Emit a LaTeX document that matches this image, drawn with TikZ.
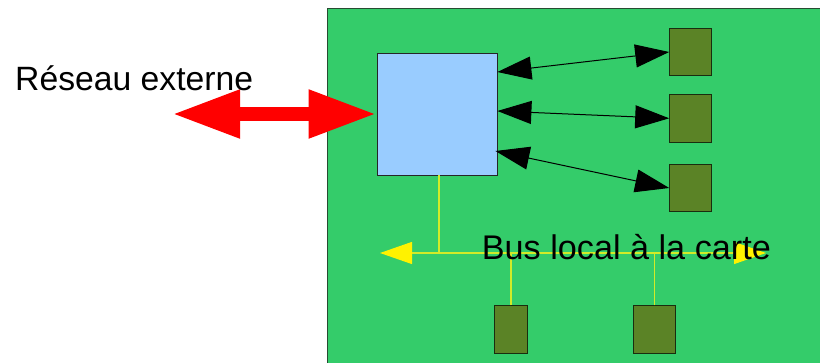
\documentclass[tikz,border=0pt]{standalone}
\usepackage{fontspec}
\setmainfont{Liberation Sans}
\usetikzlibrary{arrows.meta}

\definecolor{boardgreen}{RGB}{52,204,106}
\definecolor{boardedge}{RGB}{40,75,50}
\definecolor{cpublue}{RGB}{153,204,255}
\definecolor{portgreen}{RGB}{91,131,38}
\definecolor{portedge}{RGB}{25,45,15}
\definecolor{buslime}{RGB}{210,235,40}

\tikzset{
  cpubox/.style={draw=black!85,fill=cpublue,line width=0.8pt,minimum width=120pt,minimum height=122pt,inner sep=0pt},
  portbox/.style={draw=portedge,fill=portgreen,line width=1pt,minimum width=42pt,minimum height=47.5pt,inner sep=0pt},
  link/.style={line width=1pt,{Triangle[length=34pt,width=23pt]}-{Triangle[length=34pt,width=23pt]}},
  netarrow/.style={red,line width=14pt,{Triangle[length=68pt,width=45pt]}-{Triangle[length=68pt,width=45pt]}},
  busline/.style={buslime,line width=1.2pt},
  busarrow/.style={busline,{Triangle[length=32pt,width=22pt,color=yellow,fill=yellow]}-{Triangle[length=32pt,width=22pt,color=yellow,fill=yellow]}},
  bigtext/.style={inner sep=0pt,font=\fontsize{33.7}{40}\selectfont}
}

\begin{document}
\begin{tikzpicture}[x=1pt,y=-1pt]
  \useasboundingbox (0,0) rectangle (820,363);
  \clip (0,0) rectangle (820,363);
  % board
  \draw[boardedge,fill=boardgreen,line width=1.5pt] (327.5,8.5) rectangle (830,375);

  % processor and peripherals
  \node[cpubox] (cpu) at (437,114) {};
  \node[portbox] (p1) at (690.7,52) {};
  \node[portbox] (p2) at (690.7,118.3) {};
  \node[portbox] (p3) at (690.7,188) {};
  \node[portbox,minimum width=33.4pt] (p4) at (511,329.7) {};
  \node[portbox] (p5) at (654.3,329.7) {};

  \draw[link] ([yshift=42pt]cpu.east) -- (p1.west);
  \draw[link] ([yshift=3pt]cpu.east) -- (p2.west);
  \draw[link] ([xshift=-2pt,yshift=-37pt]cpu.east) -- (p3.west);

  % external network
  \coordinate (ext) at (172,114);
  \draw[netarrow] (ext) -- (cpu.west);
  \node[bigtext,anchor=base west] (net) at (15,90.7) {Réseau externe};

  % local bus
  \coordinate (busL) at (380,253);
  \coordinate (busR) at (766,253);
  \draw[busline] ([xshift=2pt]cpu.south) -- ([xshift=2pt]cpu.south |- busL);
  \draw[busline] (p4.north) -- (p4.north |- busL);
  \draw[busline] (p5.north) -- (p5.north |- busL);
  \draw[busarrow] (busL) -- (busR);
  \node[bigtext,anchor=base west,font=\fontsize{34.2}{40}\selectfont] (bus) at (481.7,260) {Bus local à la carte};
\end{tikzpicture}
\end{document}
